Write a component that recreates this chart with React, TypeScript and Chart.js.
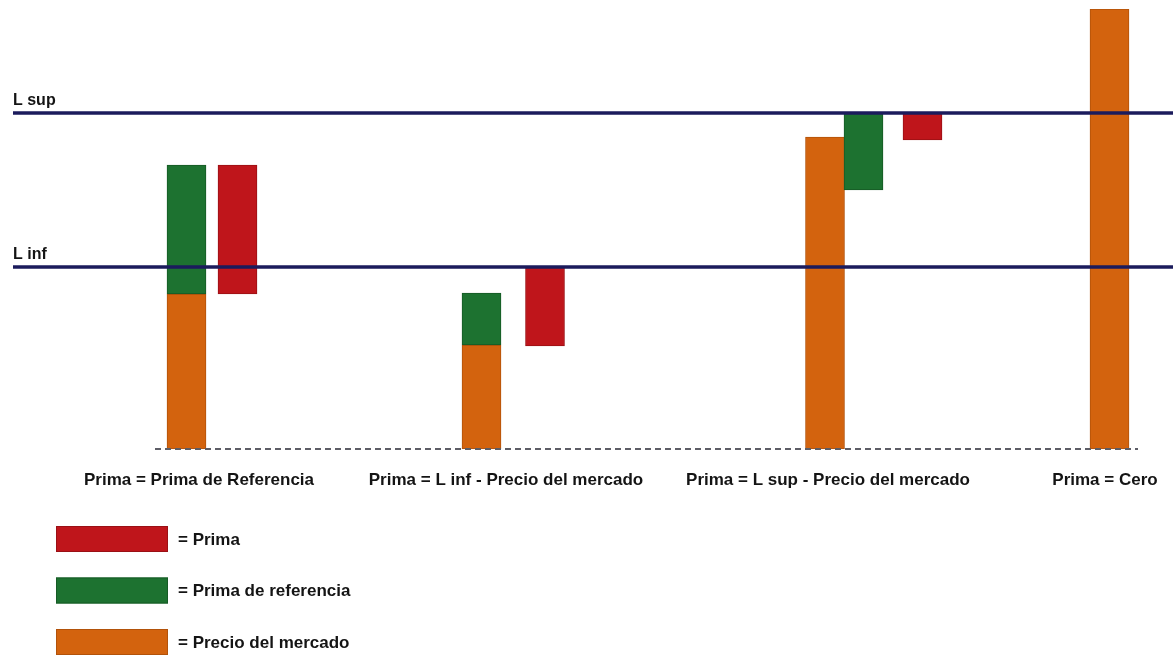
import React, { useEffect, useRef } from "react";
import { Chart, registerables } from "chart.js";

Chart.register(...registerables);

// Scenario labels along the horizontal axis and where each one sits
const scenarioLabels = [
  "Prima = Prima de Referencia",
  "Prima = L inf - Precio del mercado",
  "Prima = L sup - Precio del mercado",
  "Prima = Cero",
];
const scenarioPositions = [199, 506, 828, 1105];

// Band limits
const limitNames = ["L sup", "L inf"];
const limitValues = [336, 182];
const limitStart = 13;

// Dashed zero line extent (horizontal positions)
const baselineFrom = 155;
const baselineTo = 1138;

// Precio del mercado (orange), bars from zero
const precioX = [186.5, 481.5, 825, 1109.5];
const precioValues = [155, 104, 312, 440];

// Prima de referencia (green), floating
const referenciaX = [186.5, 481.5, 863.5];
const referenciaLow = [155, 104, 259];
const referenciaHigh = [284, 156, 336];

// Prima (red), floating
const primaX = [237.5, 545, 922.5];
const primaLow = [155, 103, 309];
const primaHigh = [284, 182, 336];

const FONT = "'Liberation Sans', Arial, sans-serif";
const TEXT = "#141414";

const limitsPlugin = {
  id: "limitsAndBaseline",
  afterDatasetsDraw(chart: any) {
    const { ctx } = chart;
    const xs = chart.scales.x;
    const ys = chart.scales.y;
    ctx.save();
    // dashed zero line
    const y0 = ys.getPixelForValue(0);
    ctx.strokeStyle = "#5d5d66";
    ctx.lineWidth = 2;
    ctx.setLineDash([6, 4]);
    ctx.beginPath();
    ctx.moveTo(xs.getPixelForValue(baselineFrom), y0);
    ctx.lineTo(xs.getPixelForValue(baselineTo), y0);
    ctx.stroke();
    ctx.setLineDash([]);
    // limit lines
    const x0 = xs.getPixelForValue(limitStart);
    limitValues.forEach((v, i) => {
      const y = ys.getPixelForValue(v);
      ctx.strokeStyle = "#1b1b5c";
      ctx.lineWidth = 3.5;
      ctx.beginPath();
      ctx.moveTo(x0, y);
      ctx.lineTo(chart.width, y);
      ctx.stroke();
      ctx.fillStyle = TEXT;
      ctx.font = `bold 16px ${FONT}`;
      ctx.textAlign = "left";
      ctx.textBaseline = "alphabetic";
      ctx.fillText(limitNames[i], x0, y - 8.5);
    });
    ctx.restore();
  },
};

const legendPlugin = {
  id: "stackedLegend",
  afterDraw(chart: any) {
    const { ctx } = chart;
    const top = chart.chartArea.bottom + 77;
    ctx.save();
    chart.data.datasets.forEach((ds: any, i: number) => {
      const y = top + i * 51.5;
      ctx.fillStyle = ds.backgroundColor;
      ctx.strokeStyle = ds.borderColor;
      ctx.lineWidth = 1;
      ctx.fillRect(56, y, 112, 26);
      ctx.strokeRect(56.5, y + 0.5, 111, 25);
      ctx.fillStyle = TEXT;
      ctx.font = `bold 17px ${FONT}`;
      ctx.textAlign = "left";
      ctx.textBaseline = "middle";
      ctx.fillText("= " + ds.label, 178, y + 14);
    });
    ctx.restore();
  },
};

export default function App() {
  const canvasRef = useRef<HTMLCanvasElement | null>(null);

  useEffect(() => {
    if (!canvasRef.current) return;
    const chart = new Chart(canvasRef.current, {
      type: "bar",
      data: {
        datasets: [
          {
            label: "Prima",
            data: primaX.map((x, i) => ({ x, y: [primaLow[i], primaHigh[i]] })),
            backgroundColor: "#bf151b",
            borderColor: "#9a1015",
          },
          {
            label: "Prima de referencia",
            data: referenciaX.map((x, i) => ({ x, y: [referenciaLow[i], referenciaHigh[i]] })),
            backgroundColor: "#1d7230",
            borderColor: "#165a25",
          },
          {
            label: "Precio del mercado",
            data: precioX.map((x, i) => ({ x, y: [0, precioValues[i]] })),
            backgroundColor: "#d3630e",
            borderColor: "#b2520a",
          },
        ] as any,
      },
      options: {
        animation: false,
        responsive: false,
        layout: { padding: { top: 9, bottom: 158, left: 0, right: 0 } },
        datasets: {
          bar: {
            grouped: false,
            barThickness: 39,
            borderWidth: 1,
            borderSkipped: false,
          },
        } as any,
        plugins: {
          legend: { display: false },
          tooltip: { enabled: false },
        },
        scales: {
          x: {
            type: "linear",
            offset: false,
            min: 0,
            max: 1173,
            grid: { display: false, drawTicks: false },
            border: { display: false },
            afterBuildTicks: (scale: any) => {
              scale.ticks = scenarioPositions.map((value) => ({ value }));
            },
            afterFit: (scale: any) => {
              scale.height = 50;
              scale.paddingLeft = 0;
              scale.paddingRight = 0;
            },
            ticks: {
              autoSkip: false,
              maxRotation: 0,
              padding: 21,
              color: TEXT,
              font: { family: FONT, size: 17, weight: "bold" },
              callback: (_v: any, i: number) => scenarioLabels[i],
            },
          },
          y: {
            display: false,
            min: 0,
            max: 440,
          },
        },
      },
      plugins: [limitsPlugin, legendPlugin],
    });
    return () => chart.destroy();
  }, []);

  return (
    <div
      style={{
        position: "fixed",
        left: 0,
        top: 0,
        width: 1173,
        height: 657,
        background: "#ffffff",
        overflow: "hidden",
      }}
    >
      <canvas ref={canvasRef} width={1173} height={657} />
    </div>
  );
}
